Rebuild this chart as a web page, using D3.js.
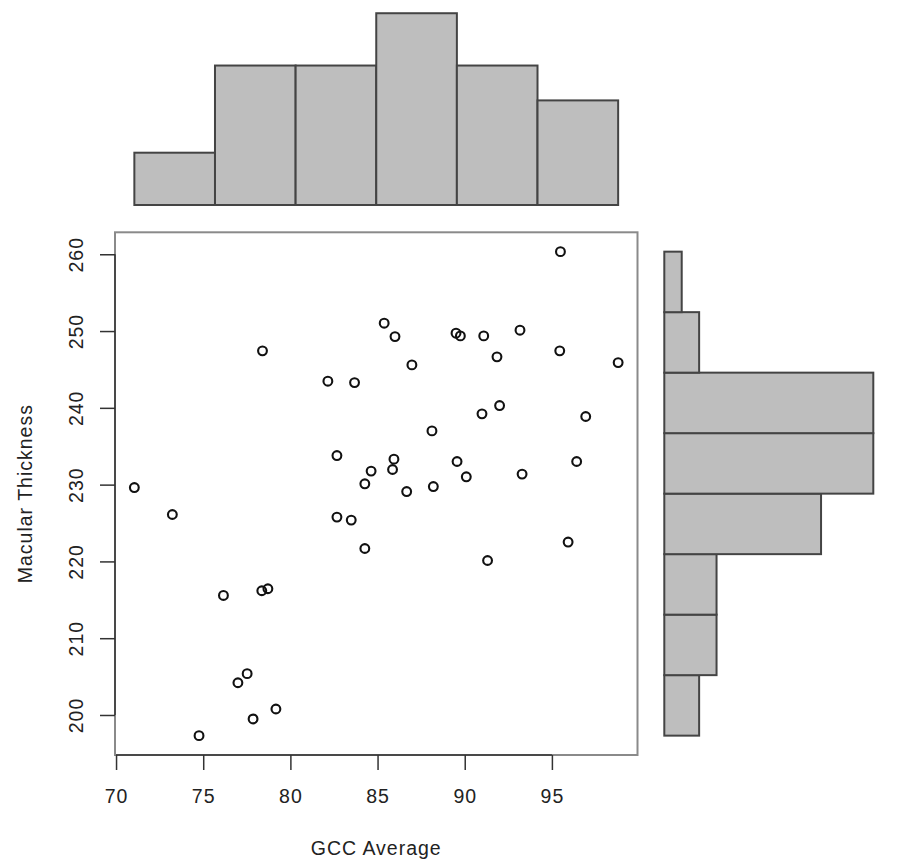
<html>
    <head>
        <title>GCC Average vs Macular Thickness</title>
        <style>
            body { margin: 0; background: #fff; }
            .chart text {
                font-family: "Liberation Sans", Arial, sans-serif;
                font-size: 19.5px;
                letter-spacing: 1px;
                fill: #222;
            }
            .bar { fill: #bebebe; stroke: #444; stroke-width: 2; }
            .pt { fill: none; stroke: #111; stroke-width: 2.1; }
        </style>
    </head>
    <body>
        <svg class="chart"></svg>
        <script src="https://d3js.org/d3.v7.min.js"></script>
        <script>
            // values
            var gccAverage = [71.05, 73.23, 74.76, 76.16, 76.99, 77.52, 77.86, 78.36, 78.71, 79.17, 78.40,
                82.15, 83.68, 82.67, 82.67, 83.49, 84.27, 84.27, 84.63, 85.38, 86.00, 85.94, 85.86, 86.67,
                86.97, 88.12, 88.20, 89.50, 89.75, 89.56, 90.09, 91.09, 90.99, 91.85, 92.00, 91.31, 93.17,
                93.29, 95.49, 95.45, 95.93, 96.42, 96.94, 98.80];
            var macularThickness = [229.62, 226.11, 197.31, 215.57, 204.20, 205.38, 199.48, 216.18, 216.44, 200.78, 247.42,
                243.47, 243.29, 233.79, 225.77, 225.38, 221.68, 230.11, 231.76, 251.02, 249.28, 233.32, 231.97, 229.10,
                245.59, 237.00, 229.75, 249.72, 249.37, 233.01, 231.02, 249.37, 239.22, 246.64, 240.30, 220.12, 250.11,
                231.37, 260.34, 247.42, 222.52, 233.01, 238.87, 245.89];

            var xTicks = [70, 75, 80, 85, 90, 95];
            var yTicks = [200, 210, 220, 230, 240, 250, 260];
            var xBreaks = [70, 75, 80, 85, 90, 95, 100];
            var yBreaks = [190, 200, 210, 220, 230, 240, 250, 260, 270];

            var width = 900, height = 859;
            var plotL = 115, plotR = 637.5, plotT = 232.3, plotB = 755;

            var svg = d3.select('.chart')
                .attr('width', width)
                .attr('height', height);

            // R style 4% padding on the data range
            function padded(vals) {
                var ext = d3.extent(vals), d = (ext[1] - ext[0]) * 0.04;
                return [ext[0] - d, ext[1] + d];
            }

            // hist() counts, right closed bins, first one includes left edge
            function counts(vals, breaks) {
                var c = breaks.slice(1).map(function() { return 0; });
                vals.forEach(function(v) {
                    for (var i = 0; i < c.length; i++) {
                        if ((v > breaks[i] || (i === 0 && v === breaks[0])) && v <= breaks[i + 1]) { c[i]++; break; }
                    }
                });
                return c;
            }

            var xCounts = counts(gccAverage, xBreaks);
            var yCounts = counts(macularThickness, yBreaks);
            var maxCount = d3.max(xCounts.concat(yCounts));

            var x = d3.scaleLinear().domain(padded(gccAverage)).range([plotL, plotR]);
            var y = d3.scaleLinear().domain(padded(macularThickness)).range([plotB, plotT]);

            // ---- top histogram
            var hx = d3.scaleLinear().domain([-0.04 * xCounts.length, xCounts.length * 1.04]).range([plotL, plotR]);
            var hy = d3.scaleLinear().domain([0, maxCount]).range([205, -4.2]);

            svg.append('g').selectAll('rect').data(xCounts).enter()
                .append('rect')
                .attr('class', 'bar')
                .attr('x', function(d, i) { return hx(i); })
                .attr('width', function(d, i) { return hx(i + 1) - hx(i); })
                .attr('y', function(d) { return hy(d); })
                .attr('height', function(d) { return hy(0) - hy(d); });

            // ---- right histogram (first bin at the bottom)
            var vy = d3.scaleLinear().domain([-0.04 * yCounts.length, yCounts.length * 1.04]).range([plotB, plotT]);
            var vx = d3.scaleLinear().domain([0, maxCount]).range([664.3, 873.3]);

            svg.append('g').selectAll('rect').data(yCounts).enter()
                .append('rect')
                .attr('class', 'bar')
                .attr('x', vx(0))
                .attr('width', function(d) { return vx(d) - vx(0); })
                .attr('y', function(d, i) { return vy(i + 1); })
                .attr('height', function(d, i) { return vy(i) - vy(i + 1); });

            // ---- scatter box
            svg.append('rect')
                .attr('x', plotL).attr('y', plotT)
                .attr('width', plotR - plotL).attr('height', plotB - plotT)
                .attr('fill', 'none').attr('stroke', '#8a8a8a').attr('stroke-width', 2);

            var xAxis = svg.append('g')
                .attr('transform', 'translate(0,' + plotB + ')')
                .call(d3.axisBottom(x).tickValues(xTicks).tickSize(15).tickPadding(19.5).tickSizeOuter(0));
            xAxis.select('.domain').remove();
            xAxis.append('line')
                .attr('x1', x(xTicks[0])).attr('x2', x(xTicks[xTicks.length - 1]))
                .attr('stroke', '#333').attr('stroke-width', 1.5);

            var yAxis = svg.append('g')
                .attr('transform', 'translate(' + plotL + ',0)')
                .call(d3.axisLeft(y).tickValues(yTicks).tickSize(15).tickSizeOuter(0));
            yAxis.select('.domain').remove();
            yAxis.append('line')
                .attr('y1', y(yTicks[0])).attr('y2', y(yTicks[yTicks.length - 1]))
                .attr('stroke', '#333').attr('stroke-width', 1.5);
            yAxis.selectAll('.tick text')
                .attr('transform', 'rotate(-90)')
                .attr('x', 0).attr('y', -31.7).attr('dy', 0)
                .style('text-anchor', 'middle');

            svg.selectAll('.tick line').attr('stroke', '#333').attr('stroke-width', 1.5);
            svg.selectAll('.tick text').attr('fill', '#222')
                .style('font-size', '19.5px').style('font-family', '"Liberation Sans", Arial, sans-serif');

            // points
            svg.append('g').selectAll('circle').data(gccAverage).enter()
                .append('circle')
                .attr('class', 'pt')
                .attr('cx', function(d) { return x(d); })
                .attr('cy', function(d, i) { return y(macularThickness[i]); })
                .attr('r', 4.4);

            // axis titles
            svg.append('text')
                .attr('x', (plotL + plotR) / 2).attr('y', 855)
                .attr('text-anchor', 'middle')
                .text('GCC Average');

            svg.append('text')
                .attr('transform', 'translate(31.7,' + (plotT + plotB) / 2 + ') rotate(-90)')
                .attr('text-anchor', 'middle')
                .text('Macular Thickness');
        </script>
    </body>
</html>
